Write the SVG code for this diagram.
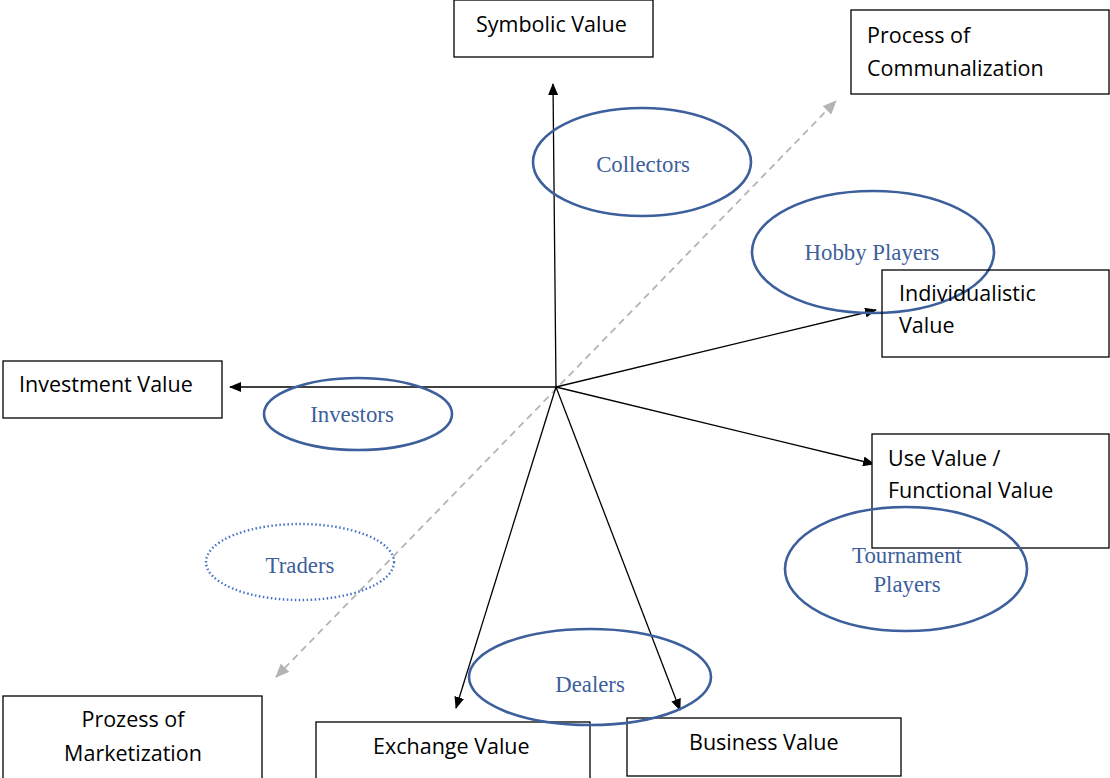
<svg xmlns="http://www.w3.org/2000/svg" width="1110" height="778" viewBox="0 0 1110 778">
<style>
.box{fill:#fff;stroke:#000;stroke-width:1.3}
.bt{font-family:"Open Sans","Liberation Sans",sans-serif;font-size:21.5px;fill:#000}
.el{fill:none;stroke:#3d5f9c;stroke-width:2.6}
.et{font-family:"Liberation Serif",serif;font-size:22.8px;fill:#3d5f9c;text-anchor:middle}
.ar{stroke:#000;stroke-width:1.3;fill:none;marker-end:url(#ah)}
.da{stroke:#b4b4b4;stroke-width:1.8;stroke-dasharray:7,5;fill:none;marker-end:url(#ag);marker-start:url(#ags)}
</style>
<defs>
<marker id="ah" markerWidth="12" markerHeight="10" refX="11" refY="5" orient="auto" markerUnits="userSpaceOnUse"><path d="M0,0 L12,5 L0,10 Z" fill="#000"/></marker>
<marker id="ag" markerWidth="14" markerHeight="12" refX="13" refY="6" orient="auto" markerUnits="userSpaceOnUse"><path d="M0,0 L14,6 L0,12 Z" fill="#b4b4b4"/></marker>
<marker id="ags" markerWidth="14" markerHeight="12" refX="1" refY="6" orient="auto" markerUnits="userSpaceOnUse"><path d="M14,0 L0,6 L14,12 Z" fill="#b4b4b4"/></marker>
</defs>
<rect width="1110" height="778" fill="#fff"/>
<g id="connectors">
<line class="da" x1="276" y1="677" x2="836" y2="101"/>
<line class="ar" x1="556" y1="387" x2="553" y2="84"/>
<line class="ar" x1="556" y1="387" x2="230" y2="387"/>
<line class="ar" x1="556" y1="387" x2="876" y2="310"/>
<line class="ar" x1="556" y1="387" x2="874" y2="464"/>
<line class="ar" x1="556" y1="387" x2="456" y2="708"/>
<line class="ar" x1="556" y1="387" x2="680" y2="710"/>
</g>
<g id="symbolic"><rect class="box" x="454" y="0" width="199" height="57"/><text class="bt" x="476" y="32">Symbolic Value</text></g>
<g id="communalization"><rect class="box" x="851" y="10" width="258" height="84"/><text class="bt" x="867" y="43">Process of</text><text class="bt" x="867" y="76">Communalization</text></g>
<g id="investment"><rect class="box" x="3" y="361" width="219" height="57"/><text class="bt" x="19" y="392">Investment Value</text></g>
<g id="prozess"><rect class="box" x="3" y="696" width="259" height="90"/><text class="bt" x="133" y="727" text-anchor="middle">Prozess of</text><text class="bt" x="133" y="761" text-anchor="middle">Marketization</text></g>
<g id="exchange"><rect class="box" x="316" y="722" width="274" height="66"/><text class="bt" x="373" y="754">Exchange Value</text></g>
<g id="business"><rect class="box" x="627" y="718" width="274" height="58"/><text class="bt" x="689" y="750">Business Value</text></g>
<g id="collectors"><ellipse class="el" cx="642" cy="162" rx="109" ry="54"/><text class="et" x="643" y="172">Collectors</text></g>
<g id="hobby"><ellipse class="el" cx="873" cy="252" rx="121" ry="61"/><text class="et" x="872" y="260">Hobby Players</text></g>
<g id="individualistic"><rect class="box" x="882" y="270" width="227" height="87" style="fill:none"/><text class="bt" x="899" y="301">Individualistic</text><text class="bt" x="899" y="333">Value</text></g>
<g id="investors"><ellipse class="el" cx="358" cy="414" rx="94" ry="36"/><text class="et" x="352" y="422">Investors</text></g>
<g id="traders"><ellipse cx="300" cy="562" rx="94" ry="38" fill="none" stroke="#4472c4" stroke-width="2.4" stroke-dasharray="1.5,2.5"/><text class="et" x="300" y="573">Traders</text></g>
<g id="usevalue"><rect class="box" x="872" y="434" width="237" height="114"/><text class="bt" x="888" y="466">Use Value /</text><text class="bt" x="888" y="498">Functional Value</text></g>
<g id="tournament"><ellipse class="el" cx="906" cy="569" rx="121" ry="62"/><text class="et" x="907" y="563">Tournament</text><text class="et" x="907" y="592">Players</text></g>
<g id="dealers"><ellipse class="el" cx="590" cy="677" rx="121" ry="48"/><text class="et" x="590" y="692">Dealers</text></g>
</svg>
